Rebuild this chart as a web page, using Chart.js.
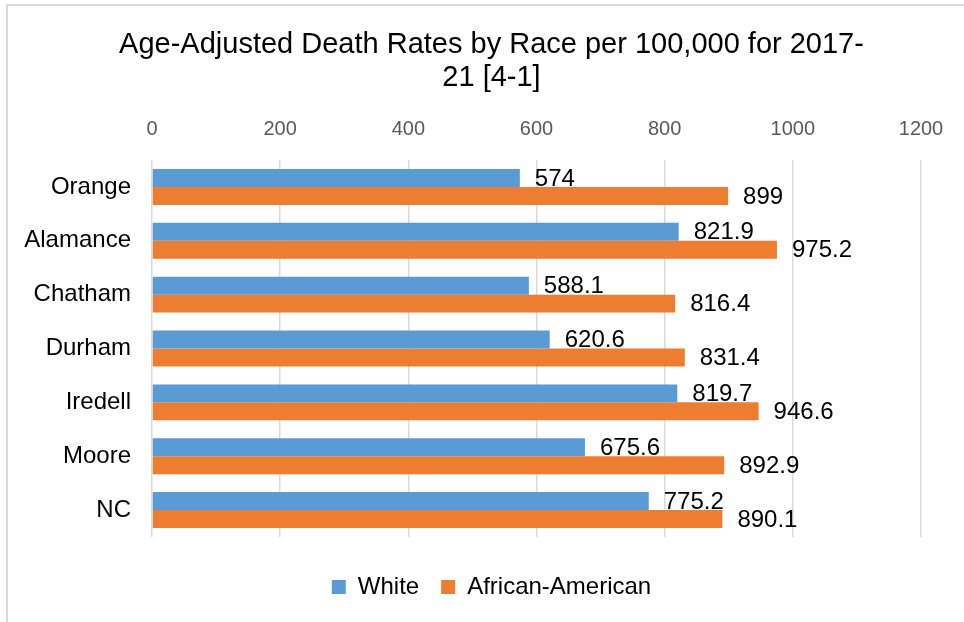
<!DOCTYPE html>
<html>
<head>
<meta charset="utf-8">
<script src="https://cdn.jsdelivr.net/npm/chart.js@4"></script>
<style>
  html, body { margin: 0; padding: 0; background: #fff; overflow: hidden; }
  #frame {
    position: absolute; left: 6px; top: 4px; width: 1000px; height: 700px;
    border-left: 2px solid #d9d9d9; border-top: 2px solid #d9d9d9;
  }
  #chart { position: absolute; left: 0; top: 0; }
</style>
</head>
<body>
<div id="frame"></div>
<canvas id="chart" width="964" height="622"></canvas>
<script>
const counties = ["Orange", "Alamance", "Chatham", "Durham", "Iredell", "Moore", "NC"];
const whiteRates = [574, 821.9, 588.1, 620.6, 819.7, 675.6, 775.2];
const africanAmericanRates = [899, 975.2, 816.4, 831.4, 946.6, 892.9, 890.1];
const axisTicks = [0, 200, 400, 600, 800, 1000, 1200];

const FONT = "'Liberation Sans', Arial, sans-serif";

// value labels at the end of each bar
const barLabels = {
  id: "barLabels",
  afterDatasetsDraw(chart) {
    const ctx = chart.ctx;
    ctx.save();
    ctx.font = "24px " + FONT;
    ctx.fillStyle = "#000";
    ctx.textAlign = "left";
    ctx.textBaseline = "middle";
    chart.data.datasets.forEach((ds, i) => {
      chart.getDatasetMeta(i).data.forEach((bar, j) => {
        ctx.fillText(String(ds.data[j]), bar.x + 15, bar.y + 1);
      });
    });
    ctx.restore();
  }
};

const ctx = document.getElementById("chart").getContext("2d");

new Chart(ctx, {
  type: "bar",
  data: {
    labels: counties,
    datasets: [
      {
        label: "White",
        data: whiteRates,
        backgroundColor: "#5b9bd5",
        categoryPercentage: 0.667,
        barPercentage: 1.0,
      },
      {
        label: "African-American",
        data: africanAmericanRates,
        backgroundColor: "#ed7d31",
        categoryPercentage: 0.667,
        barPercentage: 1.0,
      },
    ],
  },
  options: {
    indexAxis: "y",
    responsive: false,
    animation: false,
    layout: { padding: { left: 19, right: 0, top: 0, bottom: 13 } },
    plugins: {
      tooltip: { enabled: false },
      title: {
        display: true,
        text: ["Age-Adjusted Death Rates by Race per 100,000 for 2017-", "21 [4-1]"],
        color: "#000",
        font: { family: FONT, size: 29, weight: "normal", lineHeight: 33 / 29 },
        padding: { top: 28, bottom: 6 },
      },
      legend: {
        position: "bottom",
        title: { display: true, text: "", font: { size: 1, lineHeight: 1 }, padding: { top: 15, bottom: 0 } },
        labels: {
          boxWidth: 14,
          boxHeight: 14,
          padding: 22,
          color: "#000",
          font: { family: FONT, size: 24 },
        },
      },
    },
    scales: {
      x: {
        position: "top",
        min: 0,
        max: 1200,
        afterBuildTicks(scale) {
          scale.ticks = axisTicks.map(v => ({ value: v }));
        },
        afterFit(scale) {
          scale.height = 60;
        },
        grid: { color: "#d9d9d9", lineWidth: 1.5, drawTicks: false },
        border: { display: false },
        ticks: {
          color: "#595959",
          padding: 19,
          font: { family: FONT, size: 20 },
          callback: v => String(v),
        },
      },
      y: {
        afterFit(scale) {
          scale.width = 133;
        },
        grid: { display: false, drawTicks: false },
        border: { display: false },
        ticks: { color: "#000", padding: 21, font: { family: FONT, size: 24 } },
      },
      // empty strip on the right side of the plot
      yRight: {
        axis: "y",
        position: "right",
        grid: { display: false, drawTicks: false },
        border: { display: false },
        ticks: { display: false },
        afterFit(scale) {
          scale.width = 43;
        },
      },
    },
  },
  plugins: [barLabels],
});
</script>
</body>
</html>
